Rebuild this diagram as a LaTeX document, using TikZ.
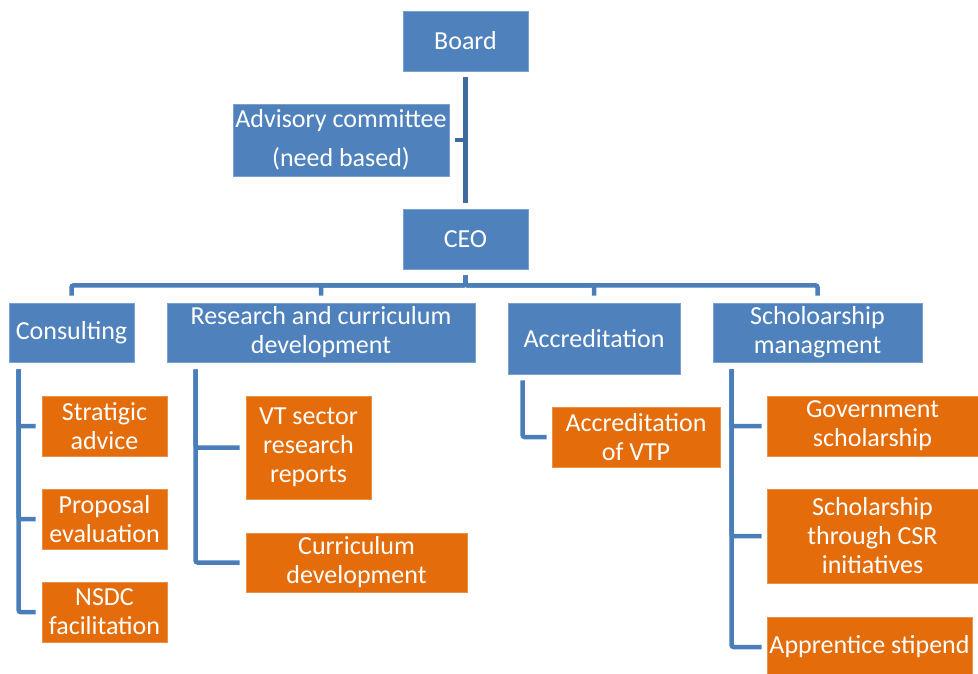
\documentclass[tikz,border=0pt]{standalone}
\usepackage{fontspec}
\setmainfont{Carlito}
\definecolor{boxblue}{HTML}{4F81BD}
\definecolor{boxorange}{HTML}{E46C0A}
\definecolor{linkblue}{HTML}{4A7EBB}
\definecolor{trunkblue}{HTML}{3F6A9E}

\begin{document}
\begin{tikzpicture}[x=1pt,y=-1pt]
\tikzstyle{unit}=[rectangle,inner sep=0pt,align=center,text=white,line width=0.8pt,
  font=\fontsize{26pt}{29pt}\selectfont]
\tikzstyle{head}=[unit,fill=boxblue,draw=boxblue!75!white]
\tikzstyle{task}=[unit,fill=boxorange,draw=boxorange!75!white]
\tikzstyle{trunk}=[line width=4.5pt,trunkblue]
\tikzstyle{link}=[line width=4.5pt,linkblue,rounded corners=2pt]
\useasboundingbox (0,0) rectangle (978,673);

% top of the chart
\node[head,minimum width=125pt,minimum height=60pt](board) at (465.5,41) {Board};
\node[head,minimum width=216pt,minimum height=72pt](adv) at (341,140) {Advisory committee\\[10pt](need based)};
\node[head,minimum width=125pt,minimum height=60pt](ceo) at (465.5,239) {CEO};

% departments
\node[head,minimum width=125pt,minimum height=59pt](cons) at (71.5,332.5) {Consulting};
\node[head,minimum width=308pt,minimum height=59pt](res) at (321,332.5) {Research and curriculum\\development};
\node[head,minimum width=172pt,minimum height=71pt](accr) at (594,338.5) {Accreditation};
\node[head,minimum width=209pt,minimum height=59pt](schol) at (817.5,332.5) {Scholoarship\\managment};

% tasks
\node[task,minimum width=125pt,minimum height=60pt](strat) at (104.5,426) {Stratigic\\advice};
\node[task,minimum width=125pt,minimum height=60pt](prop) at (104.5,519) {Proposal\\evaluation};
\node[task,minimum width=125pt,minimum height=60pt](nsdc) at (104.5,612) {NSDC\\facilitation};
\node[task,minimum width=125pt,minimum height=103pt](vt) at (308.5,447.5) {VT sector\\research\\reports};
\node[task,minimum width=221pt,minimum height=59pt](curr) at (356.5,562.5) {Curriculum\\development};
\node[task,minimum width=168pt,minimum height=60pt](vtp) at (636,437) {Accreditation\\of VTP};
\node[task,minimum width=211pt,minimum height=60pt](gov) at (872.5,426) {Government\\scholarship};
\node[task,minimum width=211pt,minimum height=94pt](csr) at (872.5,536) {Scholarship\\through CSR\\initiatives};
\node[task,minimum width=205pt,minimum height=60pt](appr) at (869.5,647) {Apprentice stipend};

% board, advisory and ceo
\draw[trunk,shorten <=6pt,shorten >=6pt] (board.south) -- (ceo.north);
\draw[trunk] ([xshift=6pt]adv.east) -- (adv.east -| board.south);

% ceo to departments
\foreach \d in {cons,res,accr,schol}
  \draw[link,shorten <=6pt,shorten >=7pt] (ceo.south) -- ++(0,16) -| (\d.north);

% departments to tasks
\foreach \t in {strat,prop,nsdc}
  \draw[link,shorten >=6pt] ([xshift=10pt,yshift=-7pt]cons.south west) |- (\t.west);
\foreach \t in {vt,curr}
  \draw[link,shorten >=6pt] ([xshift=29pt,yshift=-7pt]res.south west) |- (\t.west);
\draw[link,shorten >=5pt] ([xshift=15pt,yshift=-6pt]accr.south west) |- (vtp.west);
\foreach \t in {gov,csr,appr}
  \draw[link,shorten >=5pt] ([xshift=19pt,yshift=-7pt]schol.south west) |- (\t.west);

\end{tikzpicture}
\end{document}
